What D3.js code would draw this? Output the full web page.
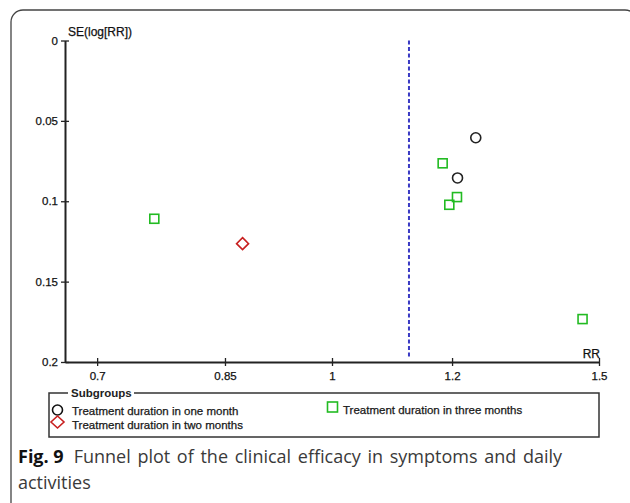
<!DOCTYPE html>
<html><head><meta charset="utf-8">
<script src="https://cdn.jsdelivr.net/npm/d3@7"></script>
<style>body{margin:0;background:#fff}svg{display:block}</style>
</head><body>
<svg id="c" width="630" height="503"></svg>
<script>
// ---- data ----
const yTicks = [0, 0.05, 0.1, 0.15, 0.2];
const yTickLabels = ["0", "0.05", "0.1", "0.15", "0.2"];
const xTicks = [0.7, 0.85, 1, 1.2, 1.5];
const xTickLabels = ["0.7", "0.85", "1", "1.2", "1.5"];
const oneMonthRR = [1.244, 1.21];
const oneMonthSE = [0.0605, 0.0855];
const twoMonthRR = [0.873];
const twoMonthSE = [0.1264];
const threeMonthRR = [0.7635, 1.183, 1.209, 1.195, 1.463];
const threeMonthSE = [0.1109, 0.0764, 0.0974, 0.1022, 0.1733];
const pooledRR = 1.124;
const legendLabels = ["Treatment duration in one month", "Treatment duration in two months", "Treatment duration in three months"];

const svg = d3.select("#c");
const font = "'Liberation Sans', Arial, sans-serif";
const fs = 11.5;
const heavy = sel => sel.attr("stroke", "#111").attr("stroke-width", 0.25);

// frame
svg.append("rect").attr("x", 11).attr("y", 10).attr("width", 626).attr("height", 520)
  .attr("rx", 12).attr("fill", "none").attr("stroke", "#444").attr("stroke-width", 1.3);

const x = d3.scaleLog().domain([1/1.5, 1.5]).range([65, 599]);
const y = d3.scaleLinear().domain([0, 0.2]).range([40.5, 362]);

// y axis
const gy = svg.append("g").attr("transform", "translate(65,0)")
  .call(d3.axisLeft(y).tickValues(yTicks).tickFormat((d, i) => yTickLabels[i]).tickSize(4).tickSizeOuter(0).tickPadding(3));
gy.select(".domain").attr("stroke", "#222").attr("stroke-width", 2);
gy.selectAll(".tick line").attr("x1", 4).attr("x2", -4).attr("stroke", "#222").attr("stroke-width", 1.3);
gy.selectAll(".tick text").attr("font-family", font).attr("font-size", fs).attr("fill", "#111").call(heavy);

// x axis
const gx = svg.append("g").attr("transform", "translate(0,362)")
  .call(d3.axisBottom(x).tickValues(xTicks).tickFormat((d, i) => xTickLabels[i]).tickSize(4).tickSizeOuter(0).tickPadding(6));
gx.select(".domain").attr("stroke", "#222").attr("stroke-width", 2);
gx.selectAll(".tick line").attr("y1", -4).attr("y2", 4).attr("stroke", "#222").attr("stroke-width", 1.3);
gx.selectAll(".tick text").attr("font-family", font).attr("font-size", fs).attr("fill", "#111").call(heavy);

// axis titles
svg.append("text").attr("x", 68).attr("y", 36).attr("font-family", font).attr("font-size", 12).attr("fill", "#111").call(heavy).text("SE(log[RR])");
svg.append("text").attr("x", 600).attr("y", 358).attr("text-anchor", "end").attr("font-family", font).attr("font-size", 12).attr("fill", "#111").call(heavy).text("RR");

// pooled line
svg.append("line").attr("x1", x(pooledRR)).attr("x2", x(pooledRR)).attr("y1", y(0)).attr("y2", 358)
  .attr("stroke", "#3a3ac4").attr("stroke-width", 2).attr("stroke-dasharray", "4,2.5");

// points
const one = oneMonthRR.map((r, i) => ({r, se: oneMonthSE[i]}));
const two = twoMonthRR.map((r, i) => ({r, se: twoMonthSE[i]}));
const three = threeMonthRR.map((r, i) => ({r, se: threeMonthSE[i]}));

svg.selectAll(".c1").data(one).enter().append("circle")
  .attr("cx", d => x(d.r)).attr("cy", d => y(d.se)).attr("r", 5)
  .attr("fill", "none").attr("stroke", "#222").attr("stroke-width", 1.6);
svg.selectAll(".c3").data(three).enter().append("rect")
  .attr("x", d => x(d.r) - 4.5).attr("y", d => y(d.se) - 4.5).attr("width", 9).attr("height", 9)
  .attr("fill", "none").attr("stroke", "#22bb22").attr("stroke-width", 1.6);
const diamond = (cx, cy, w, h) => `M${cx},${cy-h}L${cx+w},${cy}L${cx},${cy+h}L${cx-w},${cy}Z`;
svg.selectAll(".c2").data(two).enter().append("path")
  .attr("d", d => diamond(x(d.r), y(d.se), 6, 6))
  .attr("fill", "none").attr("stroke", "#c82020").attr("stroke-width", 1.6);

// legend
const lg = svg.append("g");
lg.append("rect").attr("x", 49).attr("y", 393).attr("width", 550).attr("height", 44)
  .attr("fill", "none").attr("stroke", "#333").attr("stroke-width", 1.5);
lg.append("rect").attr("x", 68).attr("y", 387).attr("width", 66).attr("height", 12).attr("fill", "#fff");
lg.append("text").attr("x", 71).attr("y", 397).attr("font-family", font).attr("font-size", fs)
  .attr("font-weight", "bold").attr("fill", "#222").text("Subgroups");
lg.append("circle").attr("cx", 57.5).attr("cy", 410).attr("r", 5).attr("fill", "none").attr("stroke", "#111").attr("stroke-width", 1.6);
lg.append("text").attr("x", 72).attr("y", 414.5).attr("font-family", font).attr("font-size", fs).attr("fill", "#222").call(heavy).text(legendLabels[0]);
lg.append("path").attr("d", diamond(57.5, 422, 6.5, 6)).attr("fill", "none").attr("stroke", "#c82020").attr("stroke-width", 1.6);
lg.append("text").attr("x", 72).attr("y", 429).attr("font-family", font).attr("font-size", fs).attr("fill", "#222").call(heavy).text(legendLabels[1]);
lg.append("rect").attr("x", 327.5).attr("y", 402).attr("width", 10).attr("height", 10).attr("fill", "none").attr("stroke", "#22bb22").attr("stroke-width", 1.6);
lg.append("text").attr("x", 343).attr("y", 414).attr("font-family", font).attr("font-size", fs).attr("fill", "#222").call(heavy).text(legendLabels[2]);

// caption
const capFont = "'Open Sans', 'Noto Sans', sans-serif";
const cap = svg.append("text").attr("x", 18).attr("y", 463).attr("font-family", capFont).attr("font-size", 18).attr("fill", "#3a3a3a");
cap.append("tspan").attr("font-weight", "bold").attr("fill", "#111").text("Fig. 9");
cap.append("tspan").attr("dx", 10).attr("word-spacing", 2).text("Funnel plot of the clinical efficacy in symptoms and daily");
svg.append("text").attr("x", 18).attr("y", 489).attr("font-family", capFont).attr("font-size", 18).attr("fill", "#3a3a3a").text("activities");
</script>
</body></html>
